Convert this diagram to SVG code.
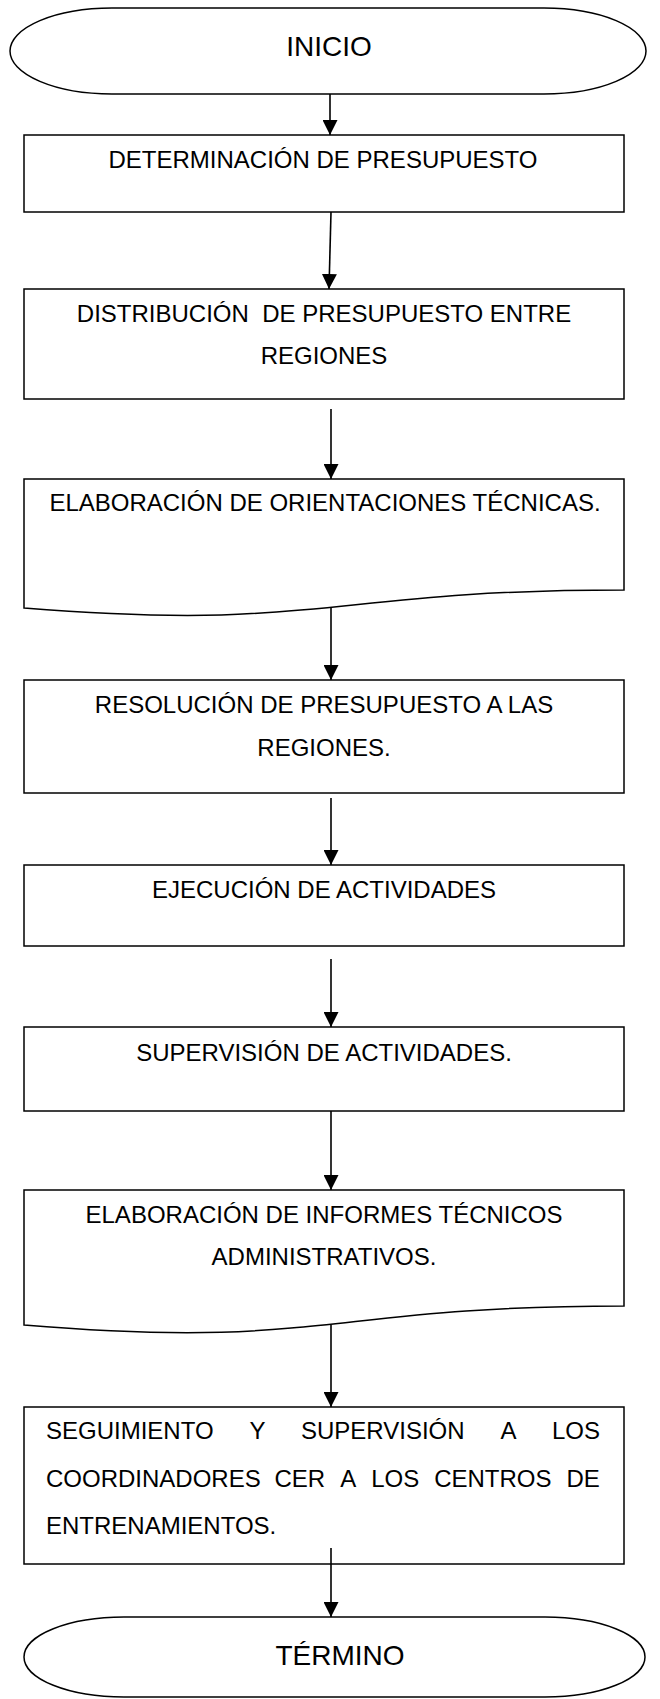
<svg xmlns="http://www.w3.org/2000/svg" width="660" height="1699" viewBox="0 0 660 1699">
<style>
.s{fill:#fff;stroke:#000;stroke-width:1.5}
.t{font-family:"Liberation Sans",Arial,sans-serif;font-size:24px;fill:#000}
.c{text-anchor:middle}
.big{font-size:28px}
.ln{stroke:#000;stroke-width:1.6;fill:none}
</style>
<defs>
<marker id="ah" markerUnits="userSpaceOnUse" markerWidth="16" markerHeight="15" refX="15" refY="7.5" orient="auto">
<path d="M0,0 L15,7.5 L0,15 Z" fill="#000"/>
</marker>
</defs>
<rect width="660" height="1699" fill="#fff"/>
<g id="inicio">
<path class="s" d="M112,8 H544 A102,43 0 0 1 544,94 H112 A102,43 0 0 1 112,8 Z"/>
<text class="t c big" x="329" y="56">INICIO</text>
</g>
<g id="n1">
<rect class="s" x="24" y="135" width="600" height="77"/>
<text class="t c" x="323" y="168">DETERMINACIÓN DE PRESUPUESTO</text>
</g>
<g id="n2">
<rect class="s" x="24" y="289" width="600" height="110"/>
<text class="t c" x="324" y="322" xml:space="preserve">DISTRIBUCIÓN  DE PRESUPUESTO ENTRE</text>
<text class="t c" x="324" y="364">REGIONES</text>
</g>
<g id="n3">
<path class="s" d="M24,479 H624 V590 C324,590 324,632 24,608 Z"/>
<text class="t c" x="325" y="511">ELABORACIÓN DE ORIENTACIONES TÉCNICAS.</text>
</g>
<g id="n4">
<rect class="s" x="24" y="680" width="600" height="113"/>
<text class="t c" x="324" y="713">RESOLUCIÓN DE PRESUPUESTO A LAS</text>
<text class="t c" x="324" y="756">REGIONES.</text>
</g>
<g id="n5">
<rect class="s" x="24" y="865" width="600" height="81"/>
<text class="t c" x="324" y="898">EJECUCIÓN DE ACTIVIDADES</text>
</g>
<g id="n6">
<rect class="s" x="24" y="1027" width="600" height="84"/>
<text class="t c" x="324" y="1061">SUPERVISIÓN DE ACTIVIDADES.</text>
</g>
<g id="n7">
<path class="s" d="M24,1190 H624 V1306 C324,1306 324,1350 24,1325 Z"/>
<text class="t c" x="324" y="1223">ELABORACIÓN DE INFORMES TÉCNICOS</text>
<text class="t c" x="324" y="1265">ADMINISTRATIVOS.</text>
</g>
<g id="n8">
<rect class="s" x="24" y="1407" width="600" height="157"/>
<text class="t" y="1439"><tspan x="46">SEGUIMIENTO</tspan><tspan x="249.5">Y</tspan><tspan x="301">SUPERVISIÓN</tspan><tspan x="500.4">A</tspan><tspan x="552">LOS</tspan></text>
<text class="t" y="1487"><tspan x="46">COORDINADORES</tspan><tspan x="274.5">CER</tspan><tspan x="340.2">A</tspan><tspan x="371.2">LOS</tspan><tspan x="434.2">CENTROS</tspan><tspan x="566.5">DE</tspan></text>
<text class="t" x="46" y="1534">ENTRENAMIENTOS.</text>
</g>
<g id="termino">
<path class="s" d="M124,1617 H545 A100,40 0 0 1 545,1697 H124 A100,40 0 0 1 124,1617 Z"/>
<text class="t c big" x="340" y="1665">TÉRMINO</text>
</g>
<g id="connectors">
<line class="ln" x1="330" y1="94" x2="330" y2="135" marker-end="url(#ah)"/>
<line class="ln" x1="331" y1="212" x2="329" y2="289" marker-end="url(#ah)"/>
<line class="ln" x1="331" y1="409" x2="331" y2="479" marker-end="url(#ah)"/>
<line class="ln" x1="331" y1="607" x2="331" y2="680" marker-end="url(#ah)"/>
<line class="ln" x1="331" y1="798" x2="331" y2="865" marker-end="url(#ah)"/>
<line class="ln" x1="331" y1="959" x2="331" y2="1027" marker-end="url(#ah)"/>
<line class="ln" x1="331" y1="1111" x2="331" y2="1190" marker-end="url(#ah)"/>
<line class="ln" x1="331" y1="1325" x2="331" y2="1407" marker-end="url(#ah)"/>
<line class="ln" x1="331" y1="1548" x2="331" y2="1617" marker-end="url(#ah)"/>
</g>
</svg>
